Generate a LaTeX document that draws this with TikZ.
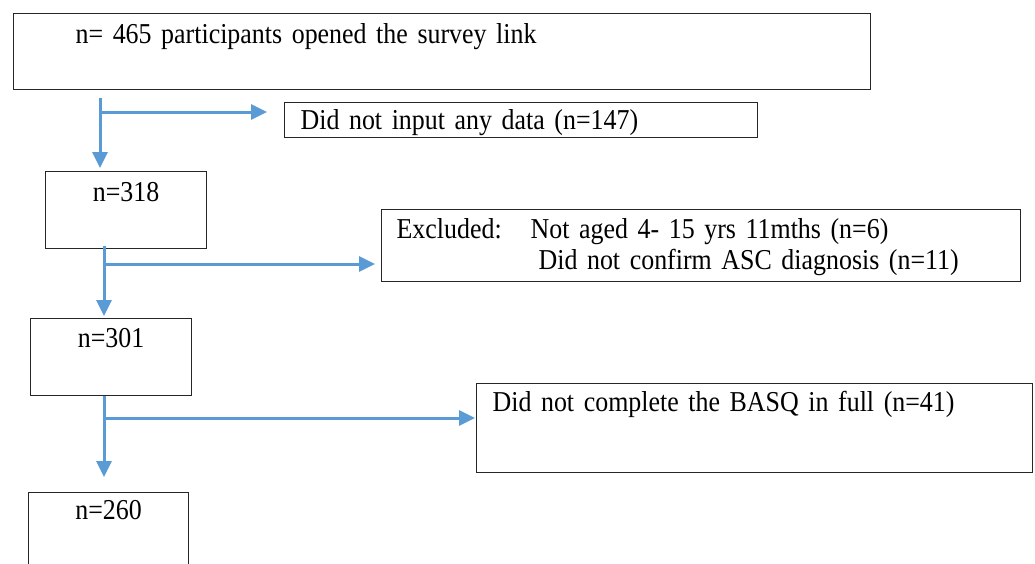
\documentclass[tikz,border=0pt]{standalone}
\usepackage{fontspec}
\setmainfont[FakeStretch=0.9,WordSpace=0.75]{Liberation Serif}
\usetikzlibrary{arrows.meta,positioning}
\definecolor{flowblue}{RGB}{91,155,213}

\begin{document}
\begin{tikzpicture}[x=1pt,y=-1pt,
	flowbox/.style={draw=black!85,line width=1.2pt,anchor=north west,inner ysep=0pt,font=\fontsize{28.8}{31}\selectfont},
	flow/.style={draw=flowblue,line width=3pt,-{Triangle[length=16pt,width=15pt]}}]
	\useasboundingbox (0,0) rectangle (1035,563);
	\clip (0,0) rectangle (1035,563);

	\node[flowbox,text width=733pt,inner xsep=62pt,align=left,text height=30pt,text depth=46pt] (opened) at (13,13) {n= 465 participants opened the survey link};
	\node[flowbox,text width=441pt,inner xsep=16pt,align=left,text height=27pt,text depth=8pt] (nodata) at (284,102) {Did not input any data (n=147)};
	\node[flowbox,text width=161pt,inner xsep=0pt,align=center,text height=30pt,text depth=47pt] (n318) at (45,171) {n=318};
	\node[flowbox,text width=609pt,inner xsep=15pt,align=left,text height=29pt,text depth=43pt] (excl) at (381,209) {\makebox[134pt][l]{Excluded:}Not aged 4- 15 yrs 11mths (n=6)\\\hspace*{142pt}Did not confirm ASC diagnosis (n=11)};
	\node[flowbox,text width=161pt,inner xsep=0pt,align=center,text height=29pt,text depth=48pt] (n301) at (30,318) {n=301};
	\node[flowbox,text width=524pt,inner xsep=16pt,align=left,text height=28pt,text depth=61pt] (basq) at (476,383) {Did not complete the BASQ in full (n=41)};
	\node[flowbox,text width=160pt,inner xsep=0pt,align=center,text height=27pt,text depth=50pt] (n260) at (28,492) {n=260};

	% split points of the flow
	\coordinate (s1) at (100,112);
	\coordinate (s2) at (104,264);
	\coordinate (s3) at (104,418);

	\draw[flow,shorten <=8pt,shorten >=3pt] (opened.south -| s1) -- (n318.north -| s1);
	\draw[flow,shorten >=17pt] (s1) -- (s1 -| nodata.west);
	\draw[flow,shorten <=-3pt,shorten >=2pt] (n318.south -| s2) -- (n301.north -| s2);
	\draw[flow,shorten >=6pt] (s2) -- (s2 -| excl.west);
	\draw[flow,shorten >=15pt] (n301.south -| s3) -- (n260.north -| s3);
	\draw[flow,shorten >=1pt] (s3) -- (s3 -| basq.west);
\end{tikzpicture}
\end{document}
